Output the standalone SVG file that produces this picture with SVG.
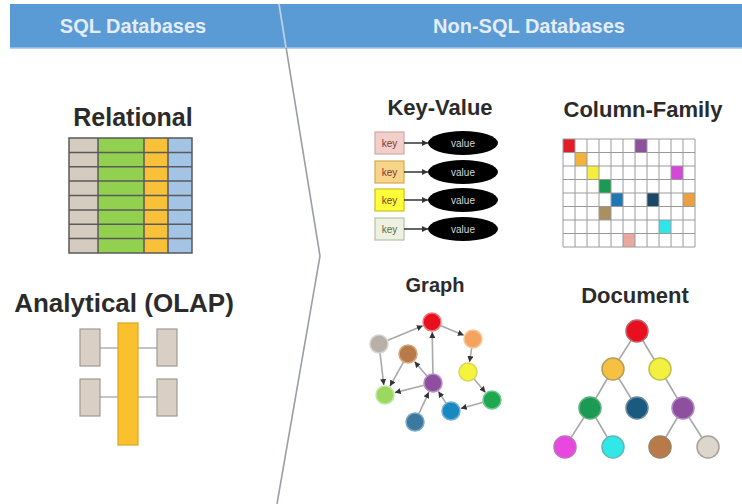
<svg xmlns="http://www.w3.org/2000/svg" width="742" height="504" viewBox="0 0 742 504">
<defs>
<style>
.hdr{font-family:"Liberation Sans",Arial,sans-serif;font-weight:bold;font-size:20px;fill:#e4edf7;text-anchor:middle}
.ttl{font-family:"Liberation Sans",Arial,sans-serif;font-weight:bold;fill:#2b2b2b;text-anchor:middle}
.grid{stroke:#5a5a5a;stroke-width:1.5;fill:none}
.cf{stroke:#9a9a9a;stroke-width:1;fill:none}
.edge{stroke:#a9a9a9;stroke-width:1.6;fill:none}
.kvline{stroke:#333;stroke-width:1.5;fill:none}
.gbox{fill:#d9cfc5;stroke:#a09890;stroke-width:1.2}
.key{font-family:"Liberation Sans",Arial,sans-serif;font-size:10px;text-anchor:middle;fill:#7a3a30}
.val{font-family:"Liberation Sans",Arial,sans-serif;font-size:10px;text-anchor:middle;fill:#d8d8d8}
.node{stroke-width:1.5}
</style>
<marker id="arr" viewBox="0 0 6 6" refX="6" refY="3" markerWidth="6" markerHeight="6" markerUnits="userSpaceOnUse" orient="auto">
<path d="M0,0 L6,3 L0,6 z" fill="#333"/>
</marker>
</defs>
<rect width="742" height="504" fill="#ffffff"/>

<g id="header">
<rect x="10" y="4" width="732" height="44" fill="#5b9bd5"/>
<line x1="10" y1="48" x2="742" y2="48" stroke="#9cc2e6" stroke-width="1.5"/>
<text class="hdr" x="133" y="33">SQL Databases</text>
<text class="hdr" x="529" y="33">Non-SQL Databases</text>
</g>

<g id="divider">
<polyline points="279,4 320,256 277,504" fill="none" stroke="#9a9ea6" stroke-width="1.6"/>
<line x1="279" y1="4" x2="286" y2="48" stroke="#b8d4ee" stroke-width="1.6"/>
</g>

<g id="relational">
<text class="ttl" x="133" y="126" style="font-size:25px">Relational</text>
<rect x="69" y="138" width="29" height="115" fill="#d6cbbf"/>
<rect x="98" y="138" width="46" height="115" fill="#92d050"/>
<rect x="144" y="138" width="24" height="115" fill="#f9c13a"/>
<rect x="168" y="138" width="24" height="115" fill="#a3c4e4"/>
<path class="grid" d="M69,138 H192 V253 H69 Z M69,152.4 H192 M69,166.8 H192 M69,181.1 H192 M69,195.5 H192 M69,209.9 H192 M69,224.3 H192 M69,238.6 H192 M98,138 V253 M144,138 V253 M168,138 V253"/>
</g>

<g id="olap">
<text class="ttl" x="124" y="312" style="font-size:26px">Analytical (OLAP)</text>
<line x1="100" y1="348" x2="157" y2="348" stroke="#8a8a8a" stroke-width="1.2"/>
<line x1="100" y1="397" x2="157" y2="397" stroke="#8a8a8a" stroke-width="1.2"/>
<rect class="gbox" x="80" y="329" width="20" height="37"/>
<rect class="gbox" x="80" y="379" width="20" height="37"/>
<rect class="gbox" x="157" y="329" width="20" height="37"/>
<rect class="gbox" x="157" y="379" width="20" height="37"/>
<rect x="118" y="323" width="20" height="122" fill="#f9c12e" stroke="#dca520" stroke-width="1.2"/>
</g>

<g id="key-value">
<text class="ttl" x="440" y="115" style="font-size:22px">Key-Value</text>
<rect x="375" y="132" width="29" height="22" fill="#f2cfca" stroke="#d2a8a2" stroke-width="1.2"/>
<rect x="375" y="161" width="29" height="22" fill="#f8d48a" stroke="#d4aa50" stroke-width="1.2"/>
<rect x="375" y="189" width="29" height="22" fill="#ffff3a" stroke="#c8c020" stroke-width="1.2"/>
<rect x="375" y="218" width="29" height="22" fill="#edf2e0" stroke="#b8c0a8" stroke-width="1.2"/>
<text class="key" x="389.5" y="146.5">key</text>
<text class="key" x="389.5" y="175.5">key</text>
<text class="key" x="389.5" y="203.5">key</text>
<text class="key" x="389.5" y="232.5" style="fill:#5a6a4a">key</text>
<line class="kvline" x1="404" y1="143" x2="428" y2="143" marker-end="url(#arr)"/>
<line class="kvline" x1="404" y1="172" x2="428" y2="172" marker-end="url(#arr)"/>
<line class="kvline" x1="404" y1="200" x2="428" y2="200" marker-end="url(#arr)"/>
<line class="kvline" x1="404" y1="229" x2="428" y2="229" marker-end="url(#arr)"/>
<ellipse cx="463" cy="143" rx="35" ry="12" fill="#000"/>
<ellipse cx="463" cy="172" rx="35" ry="12" fill="#000"/>
<ellipse cx="463" cy="200" rx="35" ry="12" fill="#000"/>
<ellipse cx="463" cy="229" rx="35" ry="12" fill="#000"/>
<text class="val" x="463" y="146.5">value</text>
<text class="val" x="463" y="175.5">value</text>
<text class="val" x="463" y="203.5">value</text>
<text class="val" x="463" y="232.5">value</text>
</g>

<g id="column-family">
<text class="ttl" x="643" y="117" style="font-size:22px">Column-Family</text>
<rect x="563" y="139" width="12" height="13.5" fill="#e01c28"/>
<rect x="635" y="139" width="12" height="13.5" fill="#8e509c"/>
<rect x="575" y="152.5" width="12" height="13.5" fill="#f0b43c"/>
<rect x="587" y="166" width="12" height="13.5" fill="#f4ee3c"/>
<rect x="671" y="166" width="12" height="13.5" fill="#d448d6"/>
<rect x="599" y="179.5" width="12" height="13.5" fill="#1a9a52"/>
<rect x="611" y="193" width="12" height="13.5" fill="#1f78b4"/>
<rect x="647" y="193" width="12" height="13.5" fill="#1a4868"/>
<rect x="683" y="193" width="12" height="13.5" fill="#eca040"/>
<rect x="599" y="206.5" width="12" height="13.5" fill="#a89060"/>
<rect x="659" y="220" width="12" height="13.5" fill="#30e6ea"/>
<rect x="623" y="233.5" width="12" height="13.5" fill="#eaa8a0"/>
<path class="cf" d="M563,139 H695 V247 H563 Z M563,152.5 H695 M563,166 H695 M563,179.5 H695 M563,193 H695 M563,206.5 H695 M563,220 H695 M563,233.5 H695 M575,139 V247 M587,139 V247 M599,139 V247 M611,139 V247 M623,139 V247 M635,139 V247 M647,139 V247 M659,139 V247 M671,139 V247 M683,139 V247"/>
</g>

<g id="graph">
<text class="ttl" x="435" y="292" style="font-size:20px">Graph</text>
<g id="graph-edges">
<line class="edge" x1="387.3" y1="340.6" x2="422.8" y2="325.8" marker-end="url(#arr)"/>
<line class="edge" x1="440.3" y1="325.4" x2="463.8" y2="335.2" marker-end="url(#arr)"/>
<line class="edge" x1="471.7" y1="347.9" x2="469.5" y2="362.1" marker-end="url(#arr)"/>
<line class="edge" x1="473.9" y1="378.8" x2="485.5" y2="392.4" marker-end="url(#arr)"/>
<line class="edge" x1="483.3" y1="402.3" x2="460.7" y2="408.4" marker-end="url(#arr)"/>
<line class="edge" x1="446.1" y1="403.4" x2="438.4" y2="391.4" marker-end="url(#arr)"/>
<line class="edge" x1="418.8" y1="413.8" x2="428.8" y2="392.1" marker-end="url(#arr)"/>
<line class="edge" x1="432.9" y1="374" x2="432.2" y2="332" marker-end="url(#arr)"/>
<line class="edge" x1="427.1" y1="376.2" x2="414.5" y2="361.6" marker-end="url(#arr)"/>
<line class="edge" x1="424.3" y1="385.2" x2="394.7" y2="392.6" marker-end="url(#arr)"/>
<line class="edge" x1="403.6" y1="361.8" x2="389.9" y2="386.3" marker-end="url(#arr)"/>
<line class="edge" x1="380" y1="352.9" x2="383.8" y2="385.1" marker-end="url(#arr)"/>
</g>
<circle class="node" cx="432" cy="322" r="9" fill="#e8101e" stroke="#f07a80"/>
<circle class="node" cx="379" cy="344" r="9" fill="#b8b0a8" stroke="#d8d2cc"/>
<circle class="node" cx="473" cy="339" r="9" fill="#f4a460" stroke="#f8c898"/>
<circle class="node" cx="408" cy="354" r="9" fill="#b87a48" stroke="#d4a880"/>
<circle class="node" cx="468" cy="372" r="9" fill="#f4f43a" stroke="#d8d860"/>
<circle class="node" cx="433" cy="383" r="9" fill="#8e4fa0" stroke="#b890c4"/>
<circle class="node" cx="385" cy="395" r="9" fill="#9ad860" stroke="#c0e8a0"/>
<circle class="node" cx="492" cy="400" r="9" fill="#20a850" stroke="#70c890"/>
<circle class="node" cx="451" cy="411" r="9" fill="#1a88c0" stroke="#70b0d8"/>
<circle class="node" cx="415" cy="422" r="9" fill="#3a7aa0" stroke="#80a8c0"/>
</g>

<g id="document">
<text class="ttl" x="635" y="303" style="font-size:22px">Document</text>
<g id="document-edges">
<path class="edge" d="M637,331 L613,369 M637,331 L660,369 M613,369 L590,408 M613,369 L637,408 M660,369 L683,408 M590,408 L565,447 M590,408 L613,447 M683,408 L660,447 M683,408 L708,447"/>
</g>
<circle class="node" cx="637" cy="331" r="11" fill="#e8101e" stroke="#c0606a"/>
<circle class="node" cx="613" cy="369" r="11" fill="#f6c040" stroke="#b0a060"/>
<circle class="node" cx="660" cy="369" r="11" fill="#f4f040" stroke="#c0c050"/>
<circle class="node" cx="590" cy="408" r="11" fill="#1a9a52" stroke="#60b080"/>
<circle class="node" cx="637" cy="408" r="11" fill="#1a5a80" stroke="#6a8aa0"/>
<circle class="node" cx="683" cy="408" r="11" fill="#8e4f9e" stroke="#b08ac0"/>
<circle class="node" cx="565" cy="447" r="11" fill="#e848e0" stroke="#c070c0"/>
<circle class="node" cx="613" cy="447" r="11" fill="#30e8e8" stroke="#60b8b8"/>
<circle class="node" cx="660" cy="447" r="11" fill="#b87a48" stroke="#a08060"/>
<circle class="node" cx="708" cy="447" r="11" fill="#ddd6cc" stroke="#a8a098"/>
</g>
</svg>
